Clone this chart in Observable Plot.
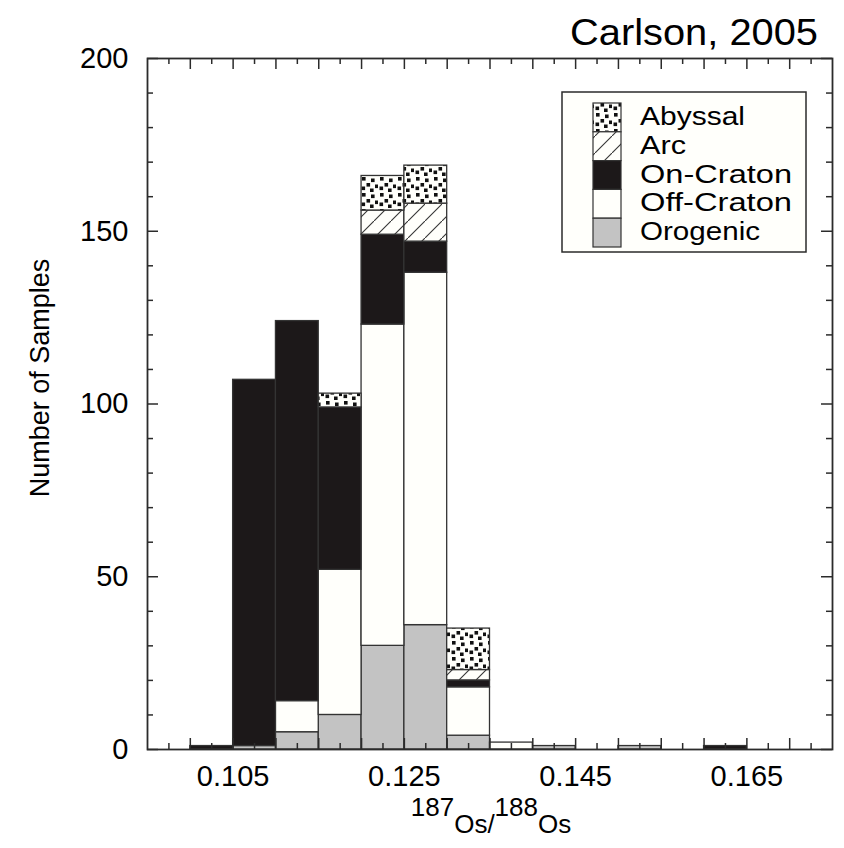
<!DOCTYPE html>
<html>
<head>
<meta charset="utf-8">
<script src="https://cdn.jsdelivr.net/npm/d3@7"></script>
<script src="https://cdn.jsdelivr.net/npm/@observablehq/plot@0.6"></script>
<style>
  html, body { margin: 0; padding: 0; background: #fff; overflow: hidden; }
  #chart svg { display: block; }
</style>
</head>
<body>
<div id="chart"></div>
<script>
// Left edge of each 0.005-wide bin of 187Os/188Os
const binStart = [0.100, 0.105, 0.110, 0.115, 0.120, 0.125, 0.130, 0.135, 0.140, 0.145, 0.150, 0.155, 0.160];
const binWidth = 0.005;

// Sample counts per bin for each peridotite setting (stacked bottom to top)
const orogenic  = [0, 1,   5, 10, 30,  36,  4, 0, 1, 0, 1, 0, 0];
const offCraton = [0, 0,   9, 42, 93, 102, 14, 2, 0, 0, 0, 0, 0];
const onCraton  = [1, 106, 110, 47, 26,  9,  2, 0, 0, 0, 0, 0, 1];
const arc       = [0, 0,   0,  0,  7,  11,  3, 0, 0, 0, 0, 0, 0];
const abyssal   = [0, 0,   0,  4, 10,  11, 12, 0, 0, 0, 0, 0, 0];

// Stack order (bottom first) and legend order (top first)
const stackOrder  = ["Orogenic", "Off-Craton", "On-Craton", "Arc", "Abyssal"];
const legendOrder = ["Abyssal", "Arc", "On-Craton", "Off-Craton", "Orogenic"];
const seriesByName = {
  "Orogenic": orogenic,
  "Off-Craton": offCraton,
  "On-Craton": onCraton,
  "Arc": arc,
  "Abyssal": abyssal
};
const fills = {
  "Abyssal": "url(#pat-abyssal)",
  "Arc": "url(#pat-arc)",
  "On-Craton": "#1c1819",
  "Off-Craton": "#fffffb",
  "Orogenic": "#c3c3c3"
};

// Axis ticks
const xTickLabels = [0.105, 0.125, 0.145, 0.165];
const xMajorTicks = [0.100, 0.105, 0.110, 0.115, 0.120, 0.125, 0.130, 0.135, 0.140, 0.145, 0.150, 0.155, 0.160, 0.165, 0.170];
const xMinorTicks = [0.0975, 0.1025, 0.1075, 0.1125, 0.1175, 0.1225, 0.1275, 0.1325, 0.1375, 0.1425, 0.1475, 0.1525, 0.1575, 0.1625, 0.1675, 0.1725];
const yTickLabels = [0, 50, 100, 150, 200];
const yMinorTicks = [10, 20, 30, 40, 60, 70, 80, 90, 110, 120, 130, 140, 160, 170, 180, 190];

const W = 844, H = 848;
const mL = 147, mR = 12, mT = 58, mB = 99;
const innerW = W - mL - mR, innerH = H - mT - mB;
const FONT = "'Liberation Sans', Arial, Helvetica, sans-serif";
const ink = "#2b2b2b";

// Long-form rows for the stacked rectangles
const rows = [];
for (const name of stackOrder) {
  seriesByName[name].forEach((v, i) => {
    if (v > 0) rows.push({name, x1: binStart[i], x2: binStart[i] + binWidth, count: v});
  });
}

const major = 11, minor = 6;

const chart = Plot.plot({
  width: W,
  height: H,
  marginLeft: mL,
  marginRight: mR,
  marginTop: mT,
  marginBottom: mB,
  style: {fontFamily: FONT, color: "#000", background: "#fff"},
  x: {domain: [0.095, 0.175]},
  y: {domain: [0, 200]},
  color: {domain: legendOrder, range: legendOrder.map(d => fills[d])},
  marks: [
    Plot.rectY(rows, {
      x1: "x1", x2: "x2", y: "count", fill: "name",
      order: stackOrder,
      stroke: "#333", strokeWidth: 1.3
    }),
    // inward ticks on all four sides
    Plot.ruleX(xMajorTicks, {stroke: ink, strokeWidth: 1.5, insetTop: innerH - major}),
    Plot.ruleX(xMinorTicks, {stroke: ink, strokeWidth: 1.5, insetTop: innerH - minor}),
    Plot.ruleX(xMajorTicks, {stroke: ink, strokeWidth: 1.5, insetBottom: innerH - major}),
    Plot.ruleX(xMinorTicks, {stroke: ink, strokeWidth: 1.5, insetBottom: innerH - minor}),
    Plot.ruleY(yTickLabels, {stroke: ink, strokeWidth: 1.5, insetRight: innerW - major}),
    Plot.ruleY(yMinorTicks, {stroke: ink, strokeWidth: 1.5, insetRight: innerW - minor}),
    Plot.ruleY(yTickLabels, {stroke: ink, strokeWidth: 1.5, insetLeft: innerW - major}),
    Plot.ruleY(yMinorTicks, {stroke: ink, strokeWidth: 1.5, insetLeft: innerW - minor}),
    Plot.axisX(xTickLabels, {
      anchor: "bottom", tickSize: 0, tickPadding: 16,
      tickFormat: d3.format(".3f"), fontSize: 29, label: null
    }),
    Plot.axisY(yTickLabels, {
      anchor: "left", tickSize: 0, tickPadding: 19,
      fontSize: 29, label: null
    }),
    Plot.frame({stroke: ink, strokeWidth: 1.8})
  ]
});

document.getElementById("chart").appendChild(chart);

const svg = d3.select(chart);

// fill patterns for the hatched and stippled groups
const defs = svg.insert("defs", ":first-child");
const pa = defs.append("pattern")
  .attr("id", "pat-abyssal").attr("patternUnits", "userSpaceOnUse")
  .attr("width", 18).attr("height", 16);
pa.append("rect").attr("width", 18).attr("height", 16).attr("fill", "#fffffb");
[[2, 1], [11, 2.5], [6.5, 7], [15, 8.5], [1.5, 10.5], [10, 12.5]].forEach(([x, y]) =>
  pa.append("rect").attr("x", x).attr("y", y).attr("width", 3.6).attr("height", 3.6).attr("fill", "#111"));

const ph = defs.append("pattern")
  .attr("id", "pat-arc").attr("patternUnits", "userSpaceOnUse")
  .attr("width", 17).attr("height", 17);
ph.append("rect").attr("width", 17).attr("height", 17).attr("fill", "#fffffb");
ph.append("line").attr("x1", 0).attr("y1", 17).attr("x2", 17).attr("y2", 0)
  .attr("stroke", "#333").attr("stroke-width", 1.1);

// legend box inside the frame; labels set tight, slightly widened
const legendWidths = {"Abyssal": 105, "Arc": 46, "On-Craton": 152, "Off-Craton": 152, "Orogenic": 120};
const lg = svg.append("g").attr("font-family", FONT).attr("text-anchor", "start");
lg.append("rect").attr("x", 562).attr("y", 92).attr("width", 244).attr("height", 160)
  .attr("fill", "#fffffb").attr("stroke", ink).attr("stroke-width", 1.5);
legendOrder.forEach((name, i) => {
  const y0 = 103 + i * 28.8;
  lg.append("rect").attr("x", 593).attr("y", y0).attr("width", 28).attr("height", 28.8)
    .attr("fill", fills[name]).attr("stroke", "#333").attr("stroke-width", 1.2);
  lg.append("text").attr("x", 640).attr("y", y0 + 22)
    .attr("text-anchor", "start")
    .attr("textLength", legendWidths[name]).attr("lengthAdjust", "spacingAndGlyphs")
    .attr("font-size", 25).attr("fill", "#000").text(name);
});

// axis titles and source note
svg.append("text")
  .attr("transform", "translate(49,378) rotate(-90)")
  .attr("text-anchor", "middle").attr("font-family", FONT).attr("font-size", 27).attr("fill", "#000")
  .text("Number of Samples");

const xl = svg.append("text")
  .attr("x", 491).attr("y", 833).attr("text-anchor", "middle")
  .attr("font-family", FONT).attr("font-size", 26).attr("fill", "#000");
xl.append("tspan").attr("dy", -17).text("187");
xl.append("tspan").attr("dy", 17).text("Os/");
xl.append("tspan").attr("dy", -17).text("188");
xl.append("tspan").attr("dy", 17).text("Os");

svg.append("text")
  .attr("x", 818).attr("y", 45).attr("text-anchor", "end")
  .attr("font-family", FONT).attr("font-size", 37).attr("fill", "#000")
  .attr("textLength", 248).attr("lengthAdjust", "spacingAndGlyphs")
  .text("Carlson, 2005");
</script>
</body>
</html>
